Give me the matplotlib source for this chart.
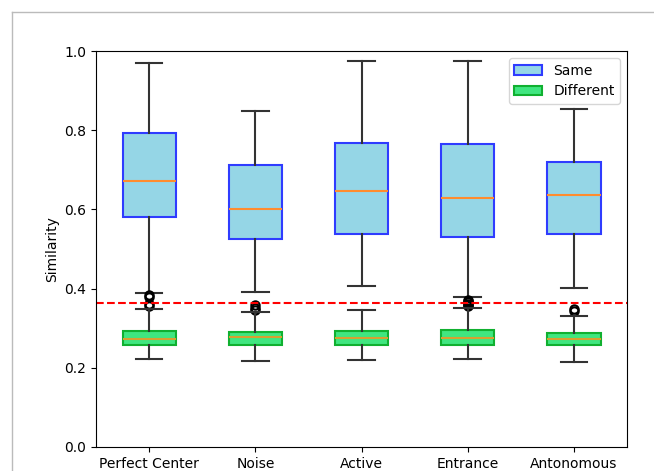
import matplotlib.pyplot as plt
from matplotlib.patches import Patch
from matplotlib.lines import Line2D

categories = ['Perfect Center', 'Noise', 'Active', 'Entrance', 'Antonomous']

# Same pairs: whislo, q1, median, q3, whishi
same_whislo = [0.388, 0.391, 0.407, 0.378, 0.402]
same_q1 = [0.581, 0.526, 0.537, 0.531, 0.538]
same_med = [0.672, 0.602, 0.647, 0.629, 0.637]
same_q3 = [0.793, 0.711, 0.768, 0.766, 0.720]
same_whishi = [0.969, 0.848, 0.975, 0.975, 0.853]
same_fliers = [[0.385, 0.378, 0.362, 0.356],
               [0.358, 0.352, 0.346],
               [],
               [0.372, 0.368, 0.365, 0.362, 0.359, 0.356],
               [0.348, 0.343]]

# Different pairs
diff_whislo = [0.223, 0.218, 0.220, 0.221, 0.215]
diff_q1 = [0.257, 0.257, 0.257, 0.258, 0.258]
diff_med = [0.272, 0.277, 0.276, 0.276, 0.273]
diff_q3 = [0.294, 0.290, 0.293, 0.295, 0.287]
diff_whishi = [0.348, 0.342, 0.345, 0.352, 0.332]

threshold = 0.363


def make_stats(lo, q1, med, q3, hi, fliers=None):
    stats = []
    for i in range(len(lo)):
        stats.append({'whislo': lo[i], 'q1': q1[i], 'med': med[i],
                      'q3': q3[i], 'whishi': hi[i],
                      'fliers': fliers[i] if fliers else []})
    return stats


fig = plt.figure(figsize=(6.54, 4.71), dpi=100)
ax = fig.add_axes([0.1468, 0.051, 0.812, 0.8407])

pos = list(range(1, len(categories) + 1))
lw = 1.5

ax.bxp(make_stats(same_whislo, same_q1, same_med, same_q3, same_whishi, same_fliers),
       positions=pos, widths=0.5, patch_artist=True,
       boxprops=dict(facecolor='#95d6e6', edgecolor='#2f3cff', linewidth=lw),
       medianprops=dict(color='#ff8c2e', linewidth=lw),
       whiskerprops=dict(color='#333333', linewidth=lw),
       capprops=dict(color='#333333', linewidth=lw),
       flierprops=dict(marker='o', markerfacecolor='none',
                       markeredgecolor='black', markersize=6, markeredgewidth=1.5))

ax.bxp(make_stats(diff_whislo, diff_q1, diff_med, diff_q3, diff_whishi),
       positions=pos, widths=0.5, patch_artist=True,
       boxprops=dict(facecolor='#40e680', edgecolor='#10b030', linewidth=lw),
       medianprops=dict(color='#d8a030', linewidth=lw),
       whiskerprops=dict(color='#333333', linewidth=lw),
       capprops=dict(color='#333333', linewidth=lw))

ax.axhline(threshold, color='red', linestyle='--', linewidth=1.5)

ax.set_xlim(0.5, 5.5)
ax.set_ylim(0, 1.0)
ax.set_xticks(pos)
ax.set_xticklabels(categories)
ax.set_ylabel('Similarity')

handles = [Patch(facecolor='#95d6e6', edgecolor='#2f3cff', linewidth=lw, label='Same'),
           Patch(facecolor='#40e680', edgecolor='#10b030', linewidth=lw, label='Different')]
ax.legend(handles=handles, loc='upper right')

# notebook output frame
fig.add_artist(Line2D([12 / 654, 12 / 654], [0, 1 - 12 / 471], color='#bbbbbb', linewidth=1))
fig.add_artist(Line2D([12 / 654, 1], [1 - 12 / 471, 1 - 12 / 471], color='#bbbbbb', linewidth=1))

fig.savefig('out.png', dpi=100)
